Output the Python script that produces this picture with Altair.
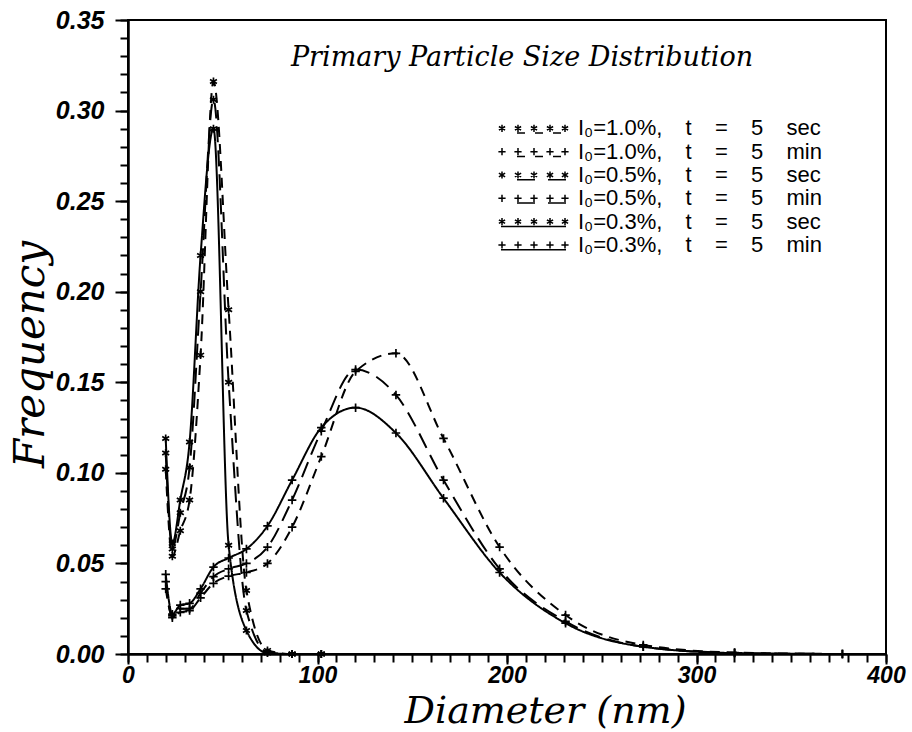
import altair as alt
import pandas as pd

# ---------------- data ----------------
diameter = [19.9, 23.4, 27.6, 32.5, 38.3, 45.1, 53.1, 62.5, 73.6, 86.6,
            102.0, 120.1, 141.4, 166.5, 196.1, 230.9, 271.9, 320.1, 377.0]

# 5 sec curves (narrow peak), defined up to 102 nm
f_10_5s = [0.102, 0.054, 0.068, 0.085, 0.165, 0.316, 0.190, 0.035, 0.002, 0.0, 0.0]
f_05_5s = [0.111, 0.058, 0.078, 0.103, 0.200, 0.306, 0.150, 0.024, 0.001, 0.0, 0.0]
f_03_5s = [0.119, 0.061, 0.085, 0.117, 0.220, 0.290, 0.060, 0.013, 0.0005, 0.0, 0.0]

# 5 min curves (broad peak)
f_10_5m = [0.036, 0.021, 0.023, 0.024, 0.031, 0.039, 0.043, 0.045, 0.050, 0.070,
           0.109, 0.156, 0.166, 0.119, 0.059, 0.0215, 0.005, 0.0008, 0.0]
f_05_5m = [0.040, 0.020, 0.025, 0.025, 0.0336, 0.0427, 0.047, 0.050, 0.059, 0.085,
           0.123, 0.157, 0.143, 0.096, 0.047, 0.018, 0.004, 0.0006, 0.0]
f_03_5m = [0.044, 0.022, 0.027, 0.028, 0.036, 0.048, 0.053, 0.058, 0.0707, 0.096,
           0.125, 0.136, 0.122, 0.086, 0.045, 0.017, 0.004, 0.0005, 0.0]

sp = "\u2002\u00a0\u00a0"
series_labels = [
    f"I\u2080=1.0%,{sp}t{sp}={sp}5{sp}sec",
    f"I\u2080=1.0%,{sp}t{sp}={sp}5{sp}min",
    f"I\u2080=0.5%,{sp}t{sp}={sp}5{sp}sec",
    f"I\u2080=0.5%,{sp}t{sp}={sp}5{sp}min",
    f"I\u2080=0.3%,{sp}t{sp}={sp}5{sp}sec",
    f"I\u2080=0.3%,{sp}t{sp}={sp}5{sp}min",
]
series_time = ["5 sec", "5 min", "5 sec", "5 min", "5 sec", "5 min"]
series_values = [f_10_5s, f_10_5m, f_05_5s, f_05_5m, f_03_5s, f_03_5m]

plot_title = "Primary Particle Size Distribution"
x_title = "Diameter (nm)"
y_title = "Frequency"

# ---------------- styles ----------------
dash_short = [10, 7]
dash_long = [16, 8]
solid = [1, 0]
series_dashes = [dash_short, dash_short, dash_long, dash_long, solid, solid]
legend_dashes = [[8, 10], [8, 10], [18, 13], [18, 13], solid, solid]

STAR = "M0,-1L0,1M-0.866,-0.5L0.866,0.5M-0.866,0.5L0.866,-0.5"
PLUS = "M-1,0L1,0M0,-1L0,1"

# legend symbol paths: five markers above a (dashed) line sample
W = 70.0
def u(px):
    return px / (W / 2) - 1
def v(py):
    return py / (W / 2)
def seg(x1, y1, x2, y2):
    return f"M{u(x1):.4f},{v(y1):.4f}L{u(x2):.4f},{v(y2):.4f}"

def legend_path(time, dash):
    parts = []
    r = 3.6
    for mx in [4, 20, 36, 52, 67]:
        if time == "5 sec":
            parts.append(seg(mx, -r, mx, r))
            parts.append(seg(mx - 0.866 * r, -0.5 * r, mx + 0.866 * r, 0.5 * r))
            parts.append(seg(mx - 0.866 * r, 0.5 * r, mx + 0.866 * r, -0.5 * r))
        else:
            parts.append(seg(mx - r, 0, mx + r, 0))
            parts.append(seg(mx, -r, mx, r))
    ly = 4.8
    if dash == solid:
        parts.append(seg(3, ly, 68, ly))
    else:
        on, off = dash
        x = 19
        while x < 68:
            parts.append(seg(x, ly, min(x + on, 69), ly))
            x += on + off
    return "".join(parts)

legend_paths = [legend_path(t, d) for t, d in zip(series_time, legend_dashes)]

rows = []
for lab, t, vals in zip(series_labels, series_time, series_values):
    for d, f in zip(diameter, vals):
        rows.append({"d": d, "f": f, "series": lab, "time": t})
df = pd.DataFrame(rows)
legend_df = pd.DataFrame({"series": series_labels})

xs = alt.Scale(domain=[0, 400], nice=False, zero=False)
ys = alt.Scale(domain=[0, 0.35], nice=False, zero=False)

tick_font = "Liberation Sans"
title_font = "DejaVu Serif"

x_major = alt.Axis(values=[0, 100, 200, 300, 400], format="d", tickSize=10, tickWidth=2,
                   domainWidth=2.5, grid=False, labelFont=tick_font, labelFontSize=23,
                   labelFontStyle="italic", labelFontWeight="bold", labelPadding=0,
                   labelFlush=False, labelOverlap=False,
                   title=x_title, titleFont=title_font, titleFontSize=38,
                   titleFontStyle="italic", titleFontWeight="normal",
                   titleX=417, titleY=68, titleBaseline="alphabetic", titleAnchor="start",
                   titleAlign="center")
x_minor = alt.Axis(values=list(range(0, 401, 10)), tickSize=8, tickWidth=2, labels=False,
                   domain=False, grid=False, title=None, orient="bottom")
y_major = alt.Axis(values=[round(0.05 * i, 2) for i in range(8)], format=".2f", tickSize=13,
                   tickWidth=2, domainWidth=2.5, grid=False, labelFont=tick_font,
                   labelFontSize=25, labelFontStyle="italic", labelFontWeight="bold",
                   labelPadding=11, labelFlush=False, labelOverlap=False,
                   title=y_title, titleFont=title_font, titleFontSize=42,
                   titleFontStyle="italic", titleFontWeight="normal",
                   titleX=-98, titleY=334, titleBaseline="middle", titleAngle=-90,
                   titleAlign="center", titleAnchor="start")
y_minor = alt.Axis(values=[round(0.01 * i, 2) for i in range(36)], tickSize=8, tickWidth=2,
                   labels=False, domain=False, grid=False, title=None, orient="left")

base = alt.Chart(df)

lines = base.mark_line(interpolate="monotone", color="black", strokeWidth=2).encode(
    x=alt.X("d:Q", scale=xs, axis=x_major),
    y=alt.Y("f:Q", scale=ys, axis=y_major),
    strokeDash=alt.StrokeDash("series:N",
                              scale=alt.Scale(domain=series_labels, range=series_dashes),
                              legend=None),
    detail="series:N",
)

stars = base.transform_filter(alt.datum.time == "5 sec").mark_point(
    shape=STAR, size=64, filled=False, color="black", strokeWidth=1.7, opacity=1
).encode(
    x=alt.X("d:Q", scale=xs, axis=x_minor),
    y=alt.Y("f:Q", scale=ys, axis=y_minor),
)

pluses = base.transform_filter(alt.datum.time == "5 min").mark_point(
    shape=PLUS, size=72, filled=False, color="black", strokeWidth=1.7, opacity=1
).encode(
    x=alt.X("d:Q", scale=xs, axis=None),
    y=alt.Y("f:Q", scale=ys, axis=None),
)

legend_rows = alt.Scale(domain=series_labels, range=[108.3, 225.0], padding=0)

legend_symbols = alt.Chart(legend_df).mark_point(
    filled=False, color="black", strokeWidth=1.5, size=W * W, opacity=1
).encode(
    x=alt.value(405),
    y=alt.Y("series:N", scale=legend_rows, axis=None),
    shape=alt.Shape("series:N", scale=alt.Scale(domain=series_labels, range=legend_paths),
                    legend=None),
)

legend_text = alt.Chart(legend_df).mark_text(
    align="left", baseline="middle", font=tick_font, fontSize=22, color="black"
).encode(
    x=alt.value(450),
    y=alt.Y("series:N", scale=legend_rows, axis=None),
    text="series:N",
)

title_layer = alt.Chart(pd.DataFrame({"t": [plot_title]})).mark_text(
    font=title_font, fontSize=27, fontStyle="italic", color="black",
    align="center", baseline="middle"
).encode(x=alt.value(394), y=alt.value(38), text="t:N")

chart = alt.layer(lines, stars, pluses, legend_symbols, legend_text, title_layer).resolve_scale(
    y="independent"
).resolve_axis(
    x="independent", y="independent"
).properties(
    width=758, height=634,
    autosize=alt.AutoSizeParams(type="none"),
    padding={"left": 128, "top": 20, "right": 26, "bottom": 78},
    background="white",
).configure_view(stroke="black", strokeWidth=2).configure_axis(
    domainColor="black", tickColor="black", labelColor="black", titleColor="black"
)

chart.save("out.html", embed_options={"renderer": "svg", "actions": False})
